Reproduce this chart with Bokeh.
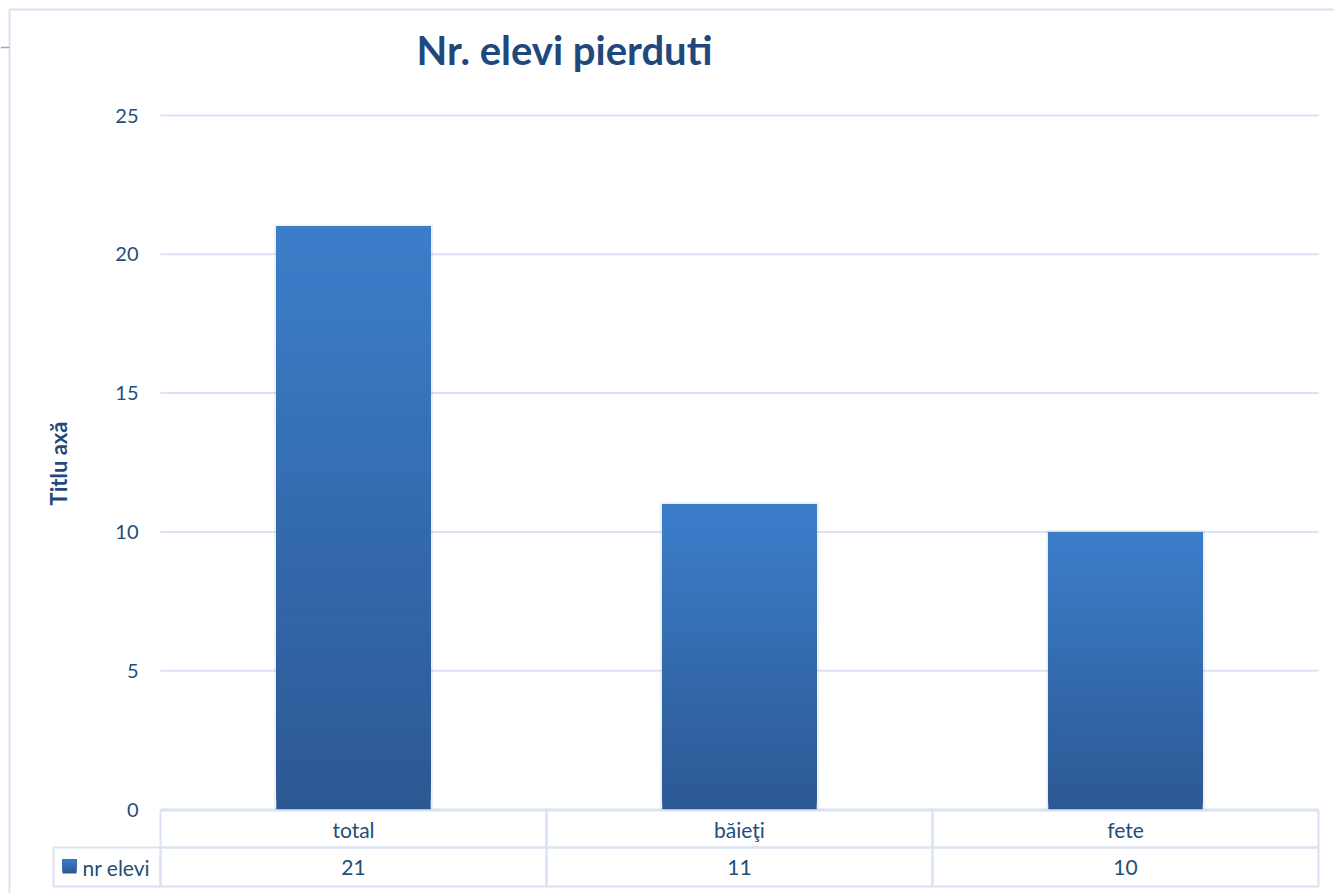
import math
from bokeh.plotting import figure
from bokeh.models import ColumnDataSource, Range1d, FixedTicker
from bokeh.core.properties import value
from bokeh.embed import file_html
from bokeh.resources import INLINE

# ---- data ----
categories = ["total", "băieţi", "fete"]
values = [21, 11, 10]
series_name = "nr elevi"
y_ticks = [0, 5, 10, 15, 20, 25]
title_text = "Nr. elevi pierduti"
y_axis_title = "Titlu axă"

# ---- layout constants (page pixels) ----
W, H = 1334, 893
PX_X0 = 160.0      # page x of the left edge of the category area
PX_PER_CAT = 386.0
PX_Y0 = 809.0      # page y of value 0
PX_PER_UNIT = 27.76


def px_x(px):
    return (px - PX_X0) / PX_PER_CAT


def px_y(py):
    return (PX_Y0 - py) / PX_PER_UNIT


TEXT_COLOR = "#1f4e79"
TITLE_COLOR = "#1f497d"
LINE_COLOR = "#d9e3f3"
FONT = "Lato"

p = figure(
    x_range=Range1d(px_x(0), px_x(W)),
    y_range=Range1d(px_y(H), px_y(0)),
    frame_width=W, frame_height=H,
    min_border_left=0, min_border_right=0, min_border_top=0, min_border_bottom=0,
    output_backend="svg", toolbar_location=None,
    x_axis_location=None,
)
p.title.text = ""
p.outline_line_color = None
p.background_fill_color = "white"
p.border_fill_color = "white"
p.xgrid.grid_line_color = None
p.ygrid.grid_line_color = None

ax = p.yaxis[0]
ax.fixed_location = 0
ax.ticker = FixedTicker(ticks=y_ticks)
ax.axis_line_color = None
ax.major_tick_line_color = None
ax.minor_tick_line_color = None
ax.major_tick_in = 0
ax.major_tick_out = 0
ax.major_label_standoff = 22
ax.major_label_text_font = FONT
ax.major_label_text_font_size = "20px"
ax.major_label_text_color = TEXT_COLOR

ncat = len(categories)

# ---- chart area border and small connector ----
p.quad(left=px_x(9), right=px_x(W + 20), top=px_y(9), bottom=px_y(H + 20),
       fill_alpha=0, line_color=LINE_COLOR, line_width=2)
p.segment(x0=px_x(0), x1=px_x(9), y0=px_y(47), y1=px_y(47), line_color="#a6a6a6", line_width=1.5)

# ---- gridlines (value axis) ----
p.segment(x0=[0] * len(y_ticks), x1=[ncat] * len(y_ticks), y0=y_ticks, y1=y_ticks,
          line_color=LINE_COLOR, line_width=2)

# ---- bars with vertical gradient ----
xs = [i + 0.5 for i in range(ncat)]
BAR_W = 0.40
top_rgb = (0x3c, 0x7e, 0xcb)
bot_rgb = (0x2c, 0x59, 0x94)
N = 60
gx, gb, gt, gc = [], [], [], []
for x, v in zip(xs, values):
    for k in range(N):
        f = k / N
        rgb = tuple(int(round(b + (t - b) * f)) for t, b in zip(top_rgb, bot_rgb))
        gx.append(x)
        gb.append(v * k / N)
        gt.append(v)
        gc.append("#%02x%02x%02x" % rgb)

p.vbar(x=xs, top=[v + 0.07 for v in values], bottom=0, width=BAR_W + 0.012,
       fill_color="black", fill_alpha=0.06, line_color=None)
src = ColumnDataSource(dict(x=gx, bottom=gb, top=gt, color=gc))
p.vbar(x="x", bottom="bottom", top="top", width=BAR_W, fill_color="color",
       line_color=None, source=src)

# ---- data table ----
ROW1_TOP, ROW1_BOT, ROW2_BOT = 810, 847, 886
cl, cr, ct, cb = [], [], [], []
for i in range(ncat):
    for t, b in [(ROW1_TOP, ROW1_BOT), (ROW1_BOT, ROW2_BOT)]:
        cl.append(i); cr.append(i + 1); ct.append(px_y(t)); cb.append(px_y(b))
cl.append(px_x(53)); cr.append(0); ct.append(px_y(ROW1_BOT)); cb.append(px_y(ROW2_BOT))
p.quad(left=cl, right=cr, top=ct, bottom=cb, fill_alpha=0, line_color=LINE_COLOR, line_width=2)

p.text(x=xs, y=[px_y((ROW1_TOP + ROW1_BOT) / 2)] * ncat, text=categories,
       text_align="center", text_baseline="middle", text_font=value(FONT),
       text_font_size="21px", text_color=TEXT_COLOR)
p.text(x=xs, y=[px_y((ROW1_BOT + ROW2_BOT) / 2)] * ncat, text=[str(v) for v in values],
       text_align="center", text_baseline="middle", text_font=value(FONT),
       text_font_size="21px", text_color=TEXT_COLOR)

# legend key in table
KN = 8
kb = [px_y(873) + (px_y(859) - px_y(873)) * k / KN for k in range(KN)]
kc = ["#%02x%02x%02x" % tuple(int(round(b + (t - b) * k / KN)) for t, b in zip(top_rgb, bot_rgb))
      for k in range(KN)]
p.quad(left=[px_x(62)] * KN, right=[px_x(76)] * KN, top=[px_y(859)] * KN, bottom=kb,
       fill_color=kc, line_color=None)
p.text(x=[px_x(82)], y=[px_y(866.5)], text=[series_name], text_align="left",
       text_baseline="middle", text_font=value(FONT), text_font_size="21px",
       text_color=TEXT_COLOR)

# ---- titles ----
p.text(x=[px_x(564)], y=[px_y(49)], text=[title_text], text_align="center",
       text_baseline="middle", text_font=value(FONT), text_font_size="40px",
       text_font_style="bold", text_color=TITLE_COLOR)
p.text(x=[px_x(58)], y=[px_y(463)], text=[y_axis_title], angle=math.pi / 2,
       text_align="center", text_baseline="middle", text_font=value(FONT),
       text_font_size="22px", text_font_style="bold", text_color=TITLE_COLOR)

open("out.html", "w").write(file_html(p, INLINE))
